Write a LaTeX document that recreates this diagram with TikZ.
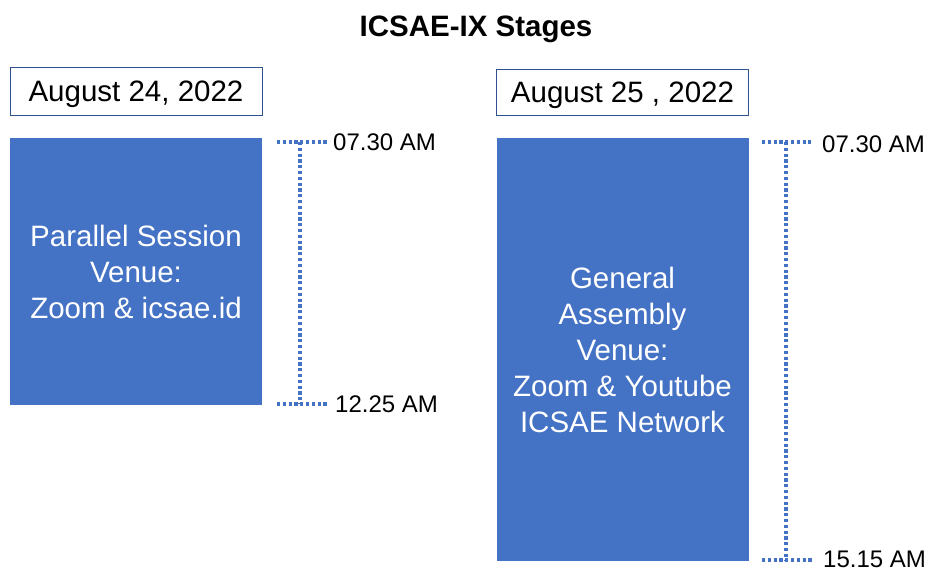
\documentclass[tikz,border=0pt]{standalone}
\usepackage{fontspec}
\setmainfont{Liberation Sans}
\usetikzlibrary{positioning}
\definecolor{boxblue}{HTML}{4472C4}
\definecolor{edgeblue}{HTML}{2F528F}
\tikzset{
  datebox/.style={draw=edgeblue, line width=1pt, minimum width=252, minimum height=48,
    inner sep=0pt, text height=21.1pt, text depth=0pt, font=\fontsize{29.5}{36}\selectfont},
  session/.style={fill=boxblue, text=white, minimum width=252, inner sep=0pt,
    align=center, font=\fontsize{29.5}{36}\selectfont},
  timeline/.style={boxblue, line width=3.4pt, dash pattern=on 3.1pt off 2.7pt},
  clock/.style={anchor=west, inner sep=0pt, text height=17.2pt, text depth=0pt,
    font=\fontsize{24}{29}\selectfont}
}
\begin{document}
\begin{tikzpicture}[x=1pt, y=-1pt]
  \useasboundingbox (0,0) rectangle (930,571);
  \node[font=\bfseries\fontsize{29.5}{34}\selectfont, text height=21.1pt, text depth=0pt]
    (title) at (476,26) {ICSAE-IX Stages};

  % first day
  \node[datebox] (day1) at (136,91) {August 24, 2022};
  \node[session, minimum height=267] (parallel) at (136,271.5)
    {Parallel Session\\Venue:\\Zoom \& icsae.id};
  \coordinate (pStart) at (300,142);
  \coordinate (pEnd) at (300,404);
  \draw[timeline] (pStart) -- (pEnd);
  \draw[timeline] ([xshift=-23pt]pStart) -- ([xshift=27pt]pStart);
  \draw[timeline] ([xshift=-23pt]pEnd) -- ([xshift=27pt]pEnd);
  \node[clock, right=33pt of pStart] (pStartLabel) {07.30 AM};
  \node[clock, right=35pt of pEnd] (pEndLabel) {12.25 AM};

  % second day
  \node[datebox, minimum height=46] (day2) at (622.5,92) {August 25 , 2022};
  \node[session, minimum height=423] (general) at (622.5,349.5)
    {General\\Assembly\\Venue:\\Zoom \& Youtube\\ICSAE Network};
  \coordinate (gStart) at (786,142);
  \coordinate (gEnd) at (786,560);
  \draw[timeline] (gStart) -- (gEnd);
  \draw[timeline] ([xshift=-24pt]gStart) -- ([xshift=25pt]gStart);
  \draw[timeline] ([xshift=-24pt]gEnd) -- ([xshift=26pt]gEnd);
  \node[clock, right=36pt of gStart, yshift=-2pt] (gStartLabel) {07.30 AM};
  \node[clock, right=37pt of gEnd, yshift=1pt] (gEndLabel) {15.15 AM};
\end{tikzpicture}
\end{document}
